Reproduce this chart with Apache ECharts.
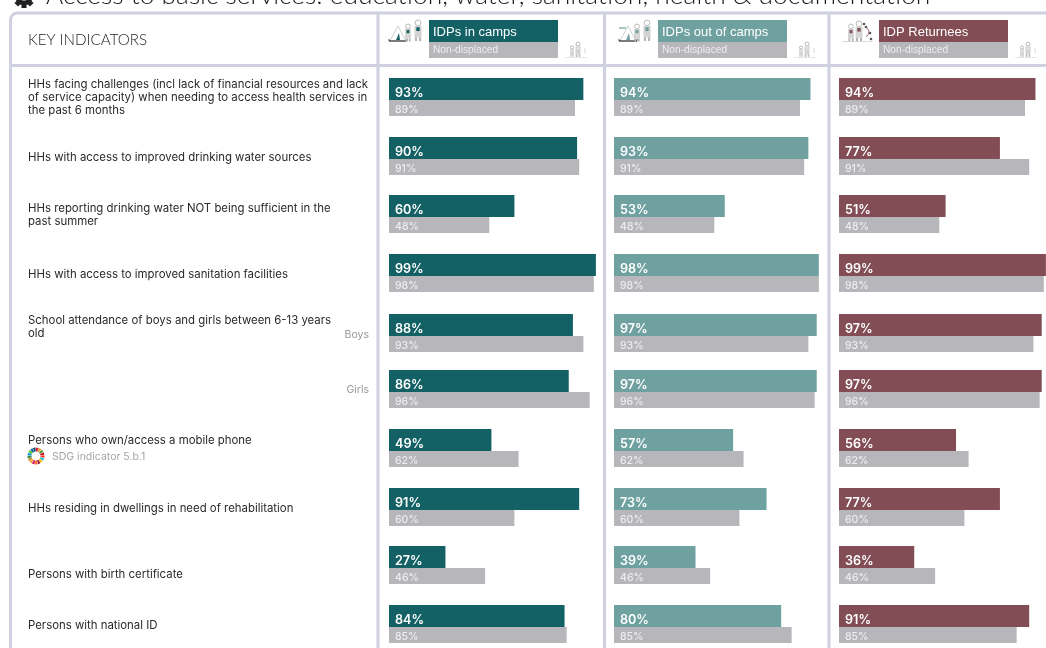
<!DOCTYPE html>
<html>
<head>
<meta charset="utf-8">
<style>html,body{margin:0;padding:0;background:#fff}#chart{width:1046px;height:648px}</style>
<script src="https://cdn.jsdelivr.net/npm/echarts@6/dist/echarts.min.js"></script>
</head>
<body>
<div id="chart"></div>
<script>
// Indicator values (percent), top to bottom
const idpsInCamps    = [93, 90, 60, 99, 88, 86, 49, 91, 27, 84];
const idpsOutOfCamps = [94, 93, 53, 98, 97, 97, 57, 73, 39, 80];
const idpReturnees   = [94, 77, 51, 99, 97, 97, 56, 77, 36, 91];
const nonDisplaced   = [89, 91, 48, 98, 93, 96, 62, 60, 46, 85];

const titleText = 'Access to basic services: education, water, sanitation, health & documentation';
const columnNames = ['IDPs in camps', 'IDPs out of camps', 'IDP Returnees'];
const comparisonName = 'Non-displaced';

// Page layout
const rowTops = [78, 137, 195, 254, 314, 370, 429, 488, 546, 605];
const columns = [
  { left: 389, header: 429, color: '#136065', values: idpsInCamps },
  { left: 614, header: 658, color: '#6fa1a1', values: idpsOutOfCamps },
  { left: 839, header: 879, color: '#824d55', values: idpReturnees }
];
const BAR_SCALE_WIDTH = 209, MAIN_H = 22, COMP_H = 16;
const GREY = '#b6b6bb', FRAME = '#cfd1e0';
const BODY_FONT = 'Inter, "Noto Sans", sans-serif';

const indicatorLines = [
  ['HHs facing challenges (incl lack of financial resources and lack', 85],
  ['of service capacity) when needing to access health services in', 98],
  ['the past 6 months', 111],
  ['HHs with access to improved drinking water sources', 158],
  ['HHs reporting drinking water NOT being sufficient in the', 209],
  ['past summer', 222],
  ['HHs with access to improved sanitation facilities', 275],
  ['School attendance of boys and girls between 6-13 years', 321],
  ['old', 334],
  ['Persons who own/access a mobile phone', 441],
  ['HHs residing in dwellings in need of rehabilitation', 509],
  ['Persons with birth certificate', 575],
  ['Persons with national ID', 626]
];

const grid = [], xAxis = [], yAxis = [], series = [];

// One small grid per bar, so the two bars of a row can differ in height
function addBar(left, top, height, value, color, labelStyle) {
  const i = grid.length;
  grid.push({ left, top, width: BAR_SCALE_WIDTH, height, outerBoundsMode: 'none' });
  xAxis.push({ gridIndex: i, type: 'value', min: 0, max: 100, show: false });
  yAxis.push({ gridIndex: i, type: 'category', data: [''], show: false });
  series.push({
    type: 'bar', xAxisIndex: i, yAxisIndex: i, data: [value], barWidth: '100%',
    itemStyle: { color }, silent: true, animation: false,
    label: Object.assign({ show: true, position: 'insideLeft', formatter: '{c}%', fontFamily: BODY_FONT }, labelStyle)
  });
}

columns.forEach(col => {
  rowTops.forEach((top, r) => {
    addBar(col.left, top, MAIN_H, col.values[r], col.color,
      { distance: 6, offset: [0, 4], color: '#fff', fontSize: 12.6, fontWeight: 600 });
    addBar(col.left, top + MAIN_H, COMP_H, nonDisplaced[r], GREY,
      { distance: 6, offset: [0, 2], color: '#eeeef0', fontSize: 10.5, fontWeight: 500 });
  });
});

// --- Static page furniture ---
const gfx = [];
const rect = (x, y, w, h, fill, r) => gfx.push({ type: 'rect', shape: { x, y, width: w, height: h, r: r || 0 }, style: { fill }, silent: true });
const text = (x, y, t, font, fill, align) => gfx.push({
  type: 'text', x, y, silent: true,
  style: { text: t, font, fill, align: align || 'left', verticalAlign: 'middle' }
});

// Table frame
gfx.push({ type: 'rect', shape: { x: 10.5, y: 13, width: 1060, height: 700, r: 7 }, style: { fill: 'none', stroke: FRAME, lineWidth: 3 }, silent: true });
rect(10, 64, 1036, 3, FRAME);
[378, 604.5, 829].forEach(x => rect(x - 1.5, 13, 3, 640, FRAME));

// Title and gear, both running off the top edge
text(46, -5, titleText, '300 26.4px Lato, sans-serif', '#1a1a1a');
gfx.push({ type: 'ring', shape: { cx: 24, cy: -3, r: 8.5, r0: 3.5 }, style: { fill: '#222' }, silent: true });
for (let a = 0; a < 8; a++) {
  gfx.push({ type: 'rect', shape: { x: -2.5, y: -11, width: 5, height: 4 }, x: 24, y: -3, rotation: a * Math.PI / 4, style: { fill: '#222' }, silent: true });
}

text(28, 40.5, 'KEY INDICATORS', '300 15.2px Lato, sans-serif', '#222');
indicatorLines.forEach(([t, y]) => text(28, y, t, '11.4px ' + BODY_FONT, '#2a2a2a'));
text(369, 335, 'Boys', '10.5px ' + BODY_FONT, '#999', 'right');
text(369, 390, 'Girls', '10.5px ' + BODY_FONT, '#999', 'right');
text(52, 457, 'SDG indicator 5.b.1', '10.5px ' + BODY_FONT, '#a5a5a5');

// SDG colour wheel
const sdgColors = ['#e5243b', '#dda63a', '#4c9f38', '#c5192d', '#ff3a21', '#26bde2', '#fcc30b', '#a21942', '#fd6925',
  '#dd1367', '#fd9d24', '#bf8b2e', '#3f7e44', '#0a97d9', '#56c02b', '#00689d', '#19486a'];
sdgColors.forEach((fill, i) => {
  const step = Math.PI * 2 / sdgColors.length;
  gfx.push({ type: 'sector', shape: { cx: 36, cy: 456, r: 8.5, r0: 4.5, startAngle: i * step - Math.PI / 2, endAngle: (i + 0.85) * step - Math.PI / 2 }, style: { fill }, silent: true });
});

// Pictograms
function line(x1, y1, x2, y2, stroke, w) {
  gfx.push({ type: 'line', shape: { x1, y1, x2, y2 }, style: { stroke, lineWidth: w || 1 }, silent: true });
}
// A sketched figure: pale head and body with a small coloured band
function person(x, y, s, accent) {
  gfx.push({ type: 'circle', shape: { cx: x, cy: y + 2.4 * s, r: 2.4 * s }, style: { fill: '#fff', stroke: '#aaa', lineWidth: 0.8 }, silent: true });
  rect(x - 3 * s, y + 5 * s, 6 * s, 9.5 * s, '#d4d4d4');
  rect(x - 1.4 * s, y + 6 * s, 2.8 * s, 3.2 * s, accent);
  rect(x - 2.6 * s, y + 14.5 * s, 1.8 * s, 3 * s, '#b5b5b5');
  rect(x + 0.8 * s, y + 14.5 * s, 1.8 * s, 3 * s, '#b5b5b5');
}
function tent(x, base, color) {
  gfx.push({ type: 'polyline', shape: { points: [[x + 1, base], [x + 9, base - 15], [x + 17, base]] }, style: { stroke: '#b0b0b0', lineWidth: 0.6, fill: 'none' }, silent: true });
  gfx.push({ type: 'polygon', shape: { points: [[x + 7, base - 1], [x + 10, base - 8], [x + 11, base - 1]] }, style: { fill: color }, silent: true });
  line(x, base, x + 18, base, '#222', 1.2);
  line(x, base - 2, x, base, '#222', 0.8);
  line(x + 18, base - 2, x + 18, base, '#222', 0.8);
}

columns.forEach((col, c) => {
  rect(col.header, 20, 129, 22, col.color);
  rect(col.header, 42, 129, 16, GREY);
  text(col.header + 4, 32, columnNames[c], '13px "Liberation Sans", sans-serif', '#fff');
  text(col.header + 4, 50, comparisonName, '10.2px "Liberation Sans", sans-serif', '#eeeef0');

  // Small non-displaced family right of the header
  const sx = col.header + 143;
  person(sx, 46, 0.62, '#e2e2e2');
  person(sx + 6, 42, 0.85, '#e2e2e2');
  line(col.header + 136, 57.5, col.header + 158, 57.5, '#ddd', 0.7);
  line(col.header + 156, 48, col.header + 156, 53, '#c5c5c5', 0.7);
});

tent(389, 41, columns[0].color);
person(408, 24, 1, columns[0].color);
person(418, 20, 1.2, columns[0].color);
tent(619, 41, columns[1].color);
line(619, 28, 626, 28, columns[1].color, 1.2);
person(637, 24, 1, columns[1].color);
person(647, 20, 1.2, columns[1].color);
person(851, 24, 1, columns[2].color);
person(859, 21, 1.15, columns[2].color);
[[864, 24], [870, 33], [871, 39], [866, 27]].forEach(([cx, cy]) =>
  gfx.push({ type: 'circle', shape: { cx, cy, r: 1.3 }, style: { fill: '#555' }, silent: true }));
gfx.push({ type: 'arc', shape: { cx: 864, cy: 32, r: 5, startAngle: -1.2, endAngle: 1.2 }, style: { stroke: columns[2].color, lineWidth: 0.8, fill: 'none' }, silent: true });
line(842, 41.5, 873, 41.5, '#ccc', 0.7);

echarts.init(document.getElementById('chart'), null, { renderer: 'canvas' }).setOption({
  backgroundColor: '#fff', animation: false,
  grid, xAxis, yAxis, series,
  graphic: { elements: gfx }
});
</script>
</body>
</html>
